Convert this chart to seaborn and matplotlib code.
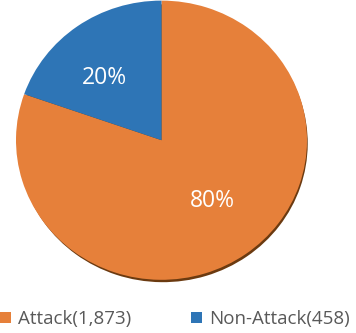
import matplotlib
matplotlib.use("Agg")
import matplotlib.pyplot as plt
import seaborn as sns
from matplotlib.patches import Patch

sns.set_theme(style="white")
plt.rcParams['font.family'] = ['Open Sans', 'DejaVu Sans']

labels = ["Attack(1,873)", "Non-Attack(458)"]
values = [1873, 458]
pct_labels = ["80%", "20%"]
colors = ["#E6803A", "#2E75B6"]

fig = plt.figure(figsize=(3.56, 3.33), dpi=100)
ax = fig.add_axes([16/356, 1 - 284/333, 291/356, 282/333])

# shadow
ax.pie(values, colors=["#6B3A10", "#6B3A10"], startangle=90, counterclock=False,
       center=(0.01, -0.022), radius=0.995, wedgeprops=dict(linewidth=0))
wedges, _ = ax.pie(values, colors=colors, startangle=90, counterclock=False,
                   radius=1.0, wedgeprops=dict(linewidth=0))
ax.set_xlim(-1.0, 1.0)
ax.set_ylim(-1.03, 0.99)
ax.set_aspect('auto')
ax.axis('off')

pos = [(0.35, -0.436), (-0.39, 0.448)]
for (x, y), t in zip(pos, pct_labels):
    ax.text(x, y, t, color="white", fontsize=16.5, ha="center", va="center")

handles = [Patch(facecolor=c, edgecolor="none") for c in colors]
leg = fig.legend(handles, labels, loc="center", bbox_to_anchor=(175/356, 1 - 319/333),
                 ncol=2, frameon=False, fontsize=13.5, handlelength=0.55, handleheight=0.55,
                 handletextpad=0.4, columnspacing=3.2, labelcolor="#595959",
                 borderpad=0, borderaxespad=0)

fig.savefig("out.png", dpi=100)
